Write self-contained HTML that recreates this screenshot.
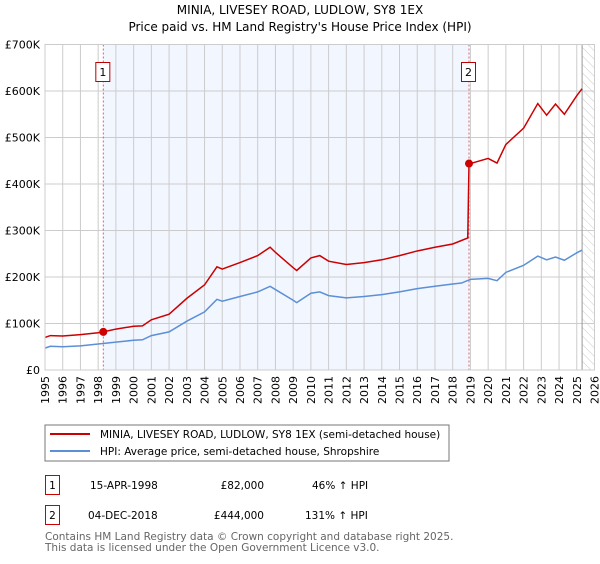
<!DOCTYPE html>
<html><head><meta charset="utf-8"><style>
body{margin:0;background:#fff;font-family:"DejaVu Sans","Liberation Sans",sans-serif;}
svg text{font-family:"DejaVu Sans","Liberation Sans",sans-serif;}
</style></head><body>
<svg id="c" width="600" height="560" xmlns="http://www.w3.org/2000/svg">
<defs><pattern id="hatch" width="6" height="6" patternUnits="userSpaceOnUse" patternTransform="rotate(-45)"><line x1="0" y1="0" x2="0" y2="6" stroke="#ccc" stroke-width="1"/></pattern></defs>
<text x="300" y="14" text-anchor="middle" font-size="12">MINIA, LIVESEY ROAD, LUDLOW, SY8 1EX</text>
<text x="300" y="31" text-anchor="middle" font-size="12">Price paid vs. HM Land Registry's House Price Index (HPI)</text>
<g id="plot"></g>
<rect x="45" y="425" width="404" height="36" fill="#fff" stroke="#777"/>
<line x1="50" y1="434" x2="90" y2="434" stroke="#cc0000" stroke-width="2"/>
<text x="100" y="438" font-size="10.5">MINIA, LIVESEY ROAD, LUDLOW, SY8 1EX (semi-detached house)</text>
<line x1="50" y1="451" x2="90" y2="451" stroke="#5b8fd6" stroke-width="2"/>
<text x="100" y="455" font-size="10.5">HPI: Average price, semi-detached house, Shropshire</text>
<g font-size="10.5">
<rect x="45.5" y="475.5" width="14" height="19" fill="none" stroke="#cc0000"/>
<text x="52.5" y="489" text-anchor="middle">1</text>
<text x="90" y="489">15-APR-1998</text>
<text x="264" y="489" text-anchor="end">£82,000</text>
<text x="312" y="489">46% ↑ HPI</text>
<rect x="45.5" y="505.5" width="14" height="19" fill="none" stroke="#cc0000"/>
<text x="52.5" y="519" text-anchor="middle">2</text>
<text x="88" y="519">04-DEC-2018</text>
<text x="264" y="519" text-anchor="end">£444,000</text>
<text x="305" y="519">131% ↑ HPI</text>
</g>
<text x="45" y="540" font-size="10.5" fill="#666">Contains HM Land Registry data © Crown copyright and database right 2025.</text>
<text x="45" y="551" font-size="10.5" fill="#666">This data is licensed under the Open Government Licence v3.0.</text>
</svg>
<script>
const hpiYears=[1995,1995.3,1996,1997,1998,1999,2000,2000.5,2001,2002,2003,2004,2004.7,2005,2006,2007,2007.7,2008,2009,2009.2,2010,2010.5,2011,2012,2013,2014,2015,2016,2017,2018,2018.5,2019,2020,2020.5,2021,2022,2022.8,2023.3,2023.8,2024.3,2025,2025.3];
const hpiValues=[47,51,50,52,56,60,64,65,74,82,105,125,152,148,158,168,180,173,150,145,165,168,160,155,158,162,168,175,180,185,187,195,197,192,210,225,245,237,243,236,252,258];
const priceYears=[1995,1995.3,1996,1997,1998,1998.29,1999,2000,2000.5,2001,2002,2003,2004,2004.7,2005,2006,2007,2007.7,2008,2009,2009.2,2010,2010.5,2011,2012,2013,2014,2015,2016,2017,2018,2018.85,2018.92,2019,2020,2020.5,2021,2022,2022.8,2023.3,2023.8,2024.3,2025,2025.3];
const priceValues=[70,74,73,76,80,82,88,94,95,108,120,154,183,222,217,231,246,264,253,220,214,241,246,234,227,231,237,246,256,264,271,284,444,444,455,445,485,520,573,548,572,550,590,605];
const saleYears=[1998.29,2018.92];
const saleValues=[82,444];
const saleLabels=["1","2"];
const yTicks=[0,100,200,300,400,500,600,700];
const yTickLabels=["£0","£100K","£200K","£300K","£400K","£500K","£600K","£700K"];
const xTicks=[1995,1996,1997,1998,1999,2000,2001,2002,2003,2004,2005,2006,2007,2008,2009,2010,2011,2012,2013,2014,2015,2016,2017,2018,2019,2020,2021,2022,2023,2024,2025,2026];
const X0=45,X1=594.5,Y0=370,Y1=44.5;
const x=v=>X0+(v-1995)/(2026-1995)*(X1-X0);
const y=v=>Y0-v/700*(Y0-Y1);
const NS="http://www.w3.org/2000/svg";
const g=document.getElementById('plot');
function mk(t,a){const e=document.createElementNS(NS,t);for(const k in a)e.setAttribute(k,a[k]);g.appendChild(e);return e;}
let r=mk('rect',{x:x(1998.29),y:Y1,width:x(2018.92)-x(1998.29),height:Y0-Y1,fill:'#f2f6ff'});


r=mk('rect',{x:x(2025.3),y:Y1,width:X1-x(2025.3),height:Y0-Y1,fill:'url(#hatch)'});


xTicks.forEach(t=>{const l=mk('line',{x1:x(t),x2:x(t),y1:Y1,y2:Y0,stroke:'#ccc','stroke-width':1});


const tx=mk('text',{x:0,y:0,'font-size':11,'text-anchor':'end',transform:`translate(${x(t)+4},${Y0+6}) rotate(-90)`});tx.textContent=t;

});
yTicks.forEach((t,i)=>{const l=mk('line',{x1:X0,x2:X1,y1:y(t),y2:y(t),stroke:'#ccc','stroke-width':1});


const tx=mk('text',{x:40,y:y(t)+4,'font-size':11,'text-anchor':'end'});tx.textContent=yTickLabels[i];

});
r=mk('line',{x1:x(2025.3),x2:x(2025.3),y1:Y1,y2:Y0,stroke:'#999','stroke-width':1});


saleYears.forEach((s,i)=>{const l=mk('line',{x1:x(s),x2:x(s),y1:Y1,y2:Y0,stroke:'#e06070','stroke-width':1,'stroke-dasharray':'2,2'});


const b=mk('rect',{x:x(s)-7.5,y:62.5,width:14,height:19,fill:'#fff',stroke:'#b00'});


const t=mk('text',{x:x(s)-0.5,y:76,'font-size':11,'text-anchor':'middle'});t.textContent=saleLabels[i];

});
let p=mk('polyline',{points:hpiYears.map((v,i)=>x(v)+','+y(hpiValues[i])).join(' '),fill:'none',stroke:'#5b8fd6','stroke-width':1.5});


p=mk('polyline',{points:priceYears.map((v,i)=>x(v)+','+y(priceValues[i])).join(' '),fill:'none',stroke:'#cc0000','stroke-width':1.5});


saleYears.forEach((s,i)=>{const c=mk('circle',{cx:x(s),cy:y(saleValues[i]),r:4,fill:'#cc0000'});

});
r=mk('rect',{x:X0,y:Y1,width:X1-X0,height:Y0-Y1,fill:'none',stroke:'#ccc'});


</script>
</body></html>
